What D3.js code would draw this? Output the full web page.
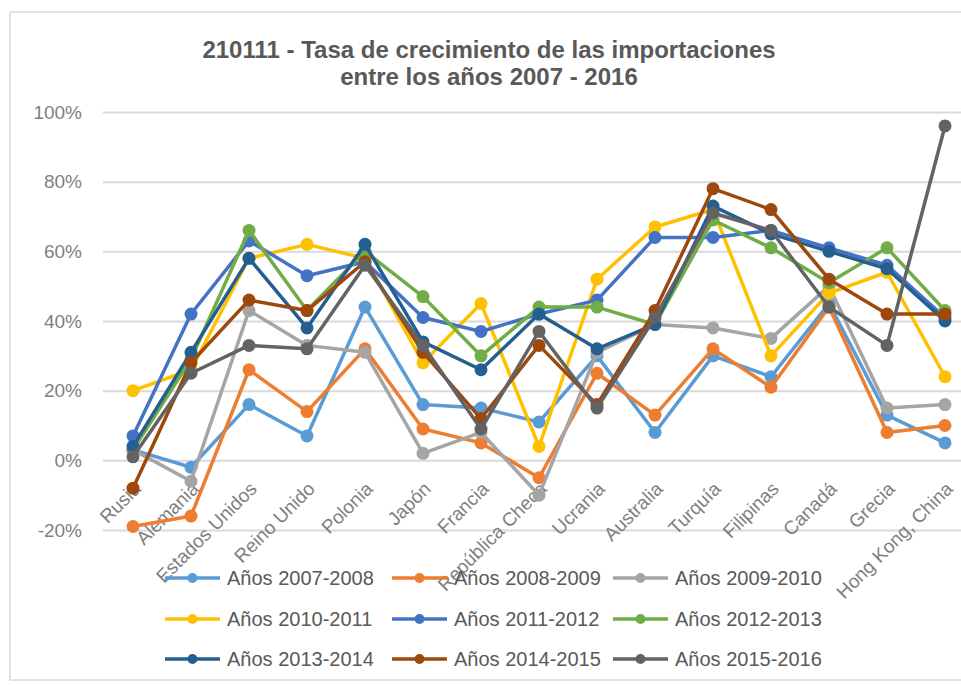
<!DOCTYPE html>
<html>
<head>
<meta charset="utf-8">
<script src="https://cdn.jsdelivr.net/npm/d3@7"></script>
<style>
  html, body { margin: 0; padding: 0; background: #fff; }
  svg { display: block; font-family: Arial, "Liberation Sans", sans-serif; }
</style>
</head>
<body>
<svg id="chart" width="961" height="685"></svg>
<script>
// Countries on the category axis
const categories = ["Rusia", "Alemania", "Estados Unidos", "Reino Unido", "Polonia", "Japón",
  "Francia", "República Checa", "Ucrania", "Australia", "Turquía", "Filipinas",
  "Canadá", "Grecia", "Hong Kong, China"];

// Import growth rate (%) per period
const s2007_2008 = [3, -2, 16, 7, 44, 16, 15, 11, 30, 8, 30, 24, 45, 13, 5];
const s2008_2009 = [-19, -16, 26, 14, 32, 9, 5, -5, 25, 13, 32, 21, 44, 8, 10];
const s2009_2010 = [3, -6, 43, 33, 31, 2, 8, -10, 31, 39, 38, 35, 50, 15, 16];
const s2010_2011 = [20, 26, 58, 62, 58, 28, 45, 4, 52, 67, 72, 30, 48, 54, 24];
const s2011_2012 = [7, 42, 63, 53, 57, 41, 37, 42, 46, 64, 64, 66, 61, 56, 41];
const s2012_2013 = [3, 29, 66, 43, 60, 47, 30, 44, 44, 39, 69, 61, 51, 61, 43];
const s2013_2014 = [4, 31, 58, 38, 62, 34, 26, 42, 32, 39, 73, 65, 60, 55, 40];
const s2014_2015 = [-8, 28, 46, 43, 57, 31, 12, 33, 16, 43, 78, 72, 52, 42, 42];
const s2015_2016 = [1, 25, 33, 32, 56, 33, 9, 37, 15, 41, 71, 66, 44, 33, 96];

const seriesNames = ["Años 2007-2008", "Años 2008-2009", "Años 2009-2010",
  "Años 2010-2011", "Años 2011-2012", "Años 2012-2013",
  "Años 2013-2014", "Años 2014-2015", "Años 2015-2016"];
const seriesValues = [s2007_2008, s2008_2009, s2009_2010, s2010_2011, s2011_2012,
  s2012_2013, s2013_2014, s2014_2015, s2015_2016];
const seriesColors = ["#5B9BD5", "#ED7D31", "#A5A5A5", "#FFC000", "#4472C4",
  "#70AD47", "#255E91", "#9E480E", "#636363"];

const yTicks = [-20, 0, 20, 40, 60, 80, 100];

const titleLines = ["210111 - Tasa de crecimiento de las importaciones",
  "entre los años 2007 - 2016"];

const svg = d3.select("#chart");

// Chart frame
svg.append("rect")
  .attr("x", 10).attr("y", 12)
  .attr("width", 1000).attr("height", 668)
  .attr("fill", "#fff")
  .attr("stroke", "#d9d9d9").attr("stroke-width", 1.5);

// Title
svg.append("g").selectAll("text")
  .data(titleLines).join("text")
  .attr("x", 489)
  .attr("y", (d, i) => 58 + i * 27)
  .attr("text-anchor", "middle")
  .attr("font-size", 24)
  .attr("font-weight", "bold")
  .attr("fill", "#595959")
  .text(d => d);

// Scales
const x = d3.scaleBand().domain(categories).range([104, 974]);
const y = d3.scaleLinear().domain([-20, 100]).range([530, 112]);
const cx = c => x(c) + x.bandwidth() / 2;

// Gridlines and y labels
const yAxis = d3.axisLeft(y)
  .tickValues(yTicks)
  .tickSize(-(961 - 103))
  .tickPadding(21)
  .tickFormat(d => d + "%");
const gy = svg.append("g")
  .attr("transform", "translate(103,0)")
  .call(yAxis);
gy.select(".domain").remove();
gy.selectAll(".tick line").attr("stroke", "#d9d9d9").attr("stroke-width", 2);
gy.selectAll(".tick text")
  .attr("font-size", 19)
  .attr("fill", "#7f7f7f")
  .attr("font-family", "Arial, 'Liberation Sans', sans-serif");

// Category labels, rotated
svg.append("g").selectAll("text")
  .data(categories).join("text")
  .attr("transform", d => `translate(${cx(d) + 9},490) rotate(-45)`)
  .attr("text-anchor", "end")
  .attr("font-size", 19)
  .attr("fill", "#7f7f7f")
  .text(d => d);

// Lines and markers
const line = d3.line()
  .x((d, i) => cx(categories[i]))
  .y(d => y(d));

const gs = svg.append("g").selectAll("g")
  .data(seriesValues).join("g");

gs.append("path")
  .attr("d", d => line(d))
  .attr("fill", "none")
  .attr("stroke", (d, i) => seriesColors[i])
  .attr("stroke-width", 3.5)
  .attr("stroke-linejoin", "round");

gs.each(function(vals, si) {
  d3.select(this).selectAll("circle")
    .data(vals).join("circle")
    .attr("cx", (d, i) => cx(categories[i]))
    .attr("cy", d => y(d))
    .attr("r", 6.5)
    .attr("fill", seriesColors[si]);
});

// Legend: 3 columns x 3 rows
const legendCols = [165, 392, 613];
const legendRows = [578, 619, 659];
const lg = svg.append("g").selectAll("g")
  .data(seriesNames).join("g")
  .attr("transform", (d, i) => `translate(${legendCols[i % 3]},${legendRows[Math.floor(i / 3)]})`);
lg.append("line")
  .attr("x1", 0).attr("x2", 55).attr("y1", 0).attr("y2", 0)
  .attr("stroke", (d, i) => seriesColors[i]).attr("stroke-width", 3.5);
lg.append("circle")
  .attr("cx", 27.5).attr("cy", 0).attr("r", 5)
  .attr("fill", (d, i) => seriesColors[i]);
lg.append("text")
  .attr("x", 62).attr("y", 7)
  .attr("font-size", 20)
  .attr("fill", "#595959")
  .text(d => d);
</script>
</body>
</html>
